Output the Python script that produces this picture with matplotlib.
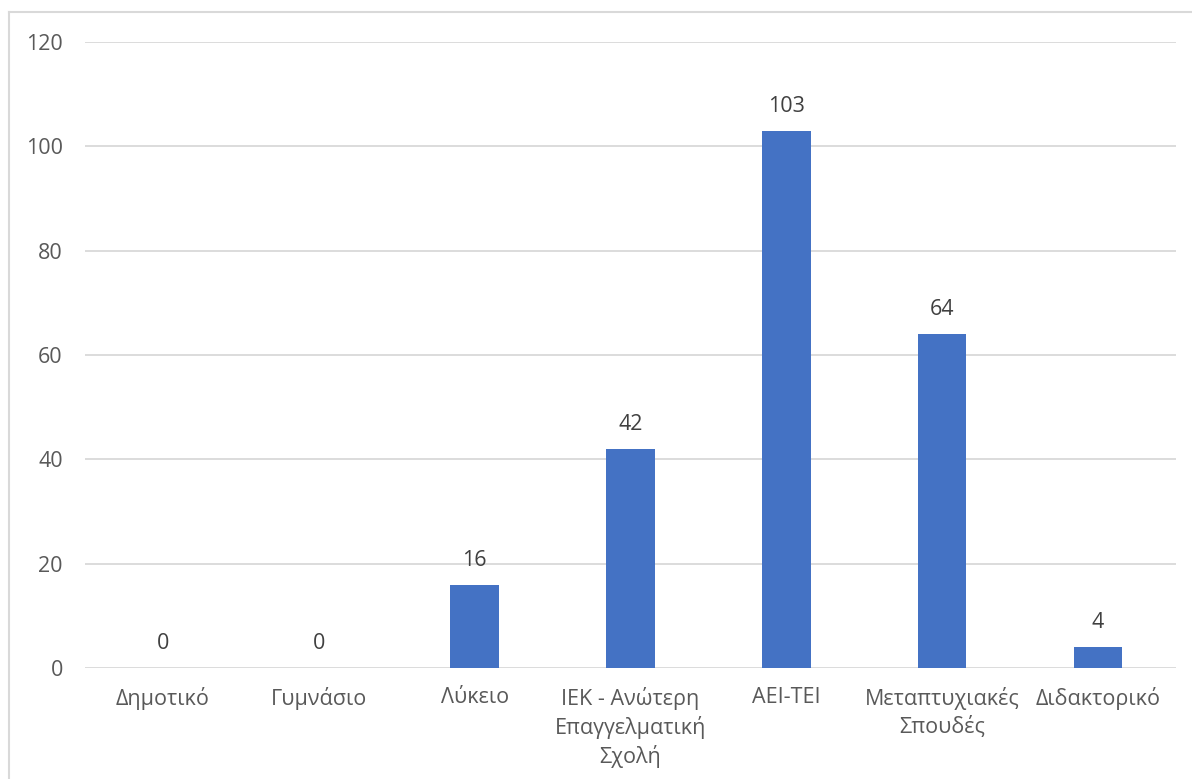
import matplotlib.pyplot as plt
from matplotlib.lines import Line2D

categories = ["Δημοτικό", "Γυμνάσιο", "Λύκειο", "ΙΕΚ - Ανώτερη\nΕπαγγελματική\nΣχολή",
              "ΑΕΙ-ΤΕΙ", "Μεταπτυχιακές\nΣπουδές", "Διδακτορικό"]
counts = [0, 0, 16, 42, 103, 64, 4]
yticks = [0, 20, 40, 60, 80, 100, 120]

plt.rcParams["font.family"] = ["Open Sans", "DejaVu Sans"]
text_color = "#595959"

fig = plt.figure(figsize=(11.92, 7.79), dpi=100)
ax = fig.add_axes([85 / 1192, 1 - 668 / 779, (1176 - 85) / 1192, (668 - 42) / 779])

x = range(len(categories))
ax.bar(x, counts, width=0.31, color="#4472C4", zorder=3)
for xi, v in zip(x, counts):
    ax.annotate(str(v), (xi, v), xytext=(0, 10), textcoords="offset points",
                ha="center", va="bottom", fontsize=15.5, color="#404040")

ax.set_xlim(-0.5, len(categories) - 0.5)
ax.set_ylim(0, 120)
ax.set_yticks(yticks)
ax.set_xticks(list(x))
ax.set_xticklabels(categories, linespacing=1.32)
ax.tick_params(axis="both", length=0, labelsize=15.5, labelcolor=text_color)
ax.tick_params(axis="y", pad=16)
ax.tick_params(axis="x", pad=14)
ax.yaxis.grid(True, color="#D9D9D9", linewidth=1.3, zorder=0)
ax.set_axisbelow(True)
for s in ax.spines.values():
    s.set_visible(False)

# outer chart frame (top and left edges visible)
fig.add_artist(Line2D([9 / 1192, 9 / 1192], [0, 1 - 12 / 779], transform=fig.transFigure,
                      color="#D9D9D9", linewidth=1.5))
fig.add_artist(Line2D([9 / 1192, 1], [1 - 12 / 779, 1 - 12 / 779], transform=fig.transFigure,
                      color="#D9D9D9", linewidth=1.5))

fig.savefig("out.png", dpi=100)
